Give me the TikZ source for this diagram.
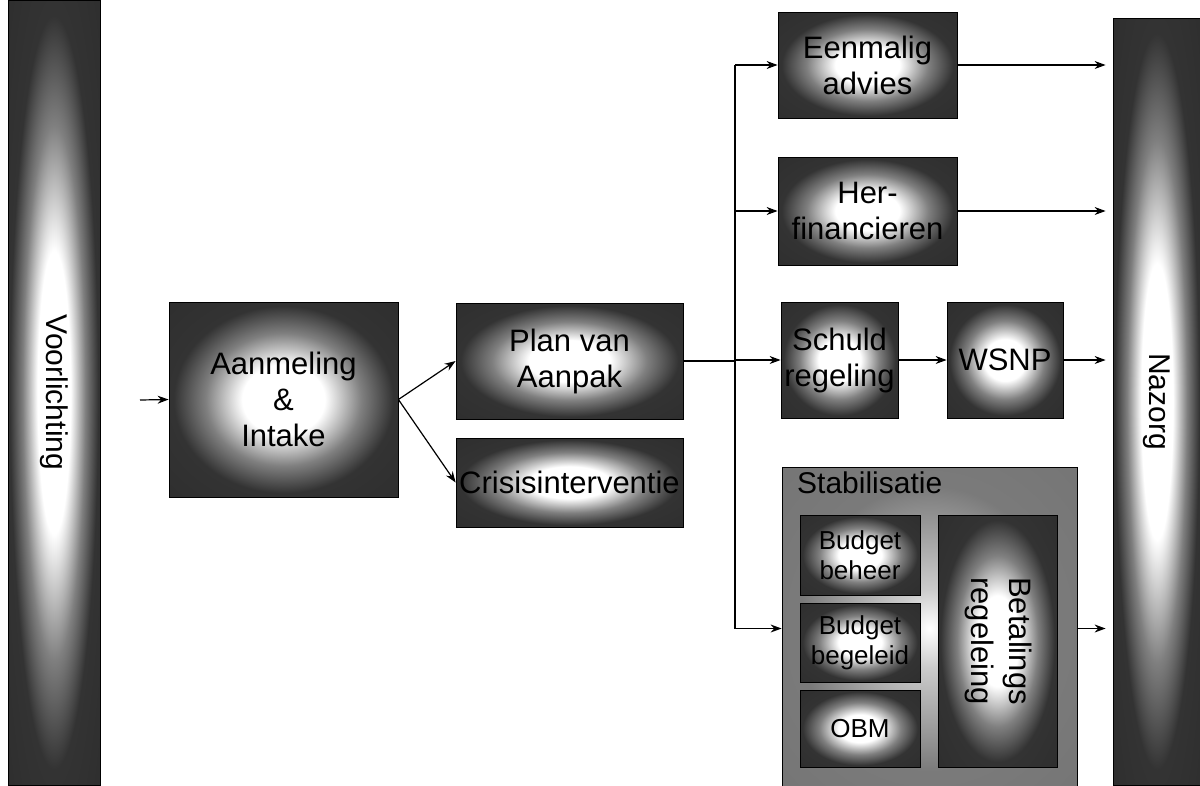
\documentclass[tikz,border=0pt]{standalone}
\usepackage{fontspec}
\setmainfont{Liberation Sans}
\usepackage{graphicx}
\usetikzlibrary{arrows.meta}

% dark edges, white middle
\pgfdeclareradialshading{glow}{\pgfpoint{0bp}{0bp}}{%
  color(0bp)=(white); color(9bp)=(white); color(17bp)=(black!50); color(24bp)=(black!80); color(50bp)=(black!84)}
\pgfdeclareradialshading{paleglow}{\pgfpoint{0bp}{0bp}}{%
  color(0bp)=(white); color(6bp)=(black!20); color(22bp)=(black!52); color(50bp)=(black!56)}

\begin{document}
\begin{tikzpicture}[
    x=1pt, y=-1pt,
    box/.style={draw=black, line width=0.8pt, shading=glow, inner sep=0pt, align=center,
        font=\fontsize{31}{36}\selectfont},
    smallbox/.style={box, font=\fontsize{26}{30}\selectfont},
    frame/.style={draw=black, line width=0.8pt, shading=paleglow, inner sep=0pt},
    flow/.style={-{Stealth[length=11pt,width=8pt]}, line width=1.2pt},
    link/.style={line width=1.2pt}
]
    \useasboundingbox (0,0) rectangle (1200,785);

    % Side bars
    \node[box, minimum width=92pt, minimum height=785pt, font=\fontsize{30}{34}\selectfont]
        (voorl) at (54,392.5) {\rotatebox{-90}{Voorlichting}};
    \node[box, minimum width=88pt, minimum height=767pt, font=\fontsize{30}{34}\selectfont]
        (nazorg) at (1157,401.5) {\rotatebox{-90}{Nazorg}};

    % Intake and plan
    \node[box, minimum width=229pt, minimum height=195pt] (aanmeling) at (283.5,399.5)
        {Aanmeling\\\&\\Intake};
    \node[box, minimum width=227pt, minimum height=116pt] (plan) at (569.5,361)
        {Plan van\\Aanpak};
    \node[box, minimum width=227pt, minimum height=89pt] (crisis) at (569.5,482.5)
        {Crisisinterventie};

    % Routes
    \node[box, minimum width=179pt, minimum height=106pt] (eenmalig) at (867.5,65)
        {Eenmalig\\advies};
    \node[box, minimum width=179pt, minimum height=108pt] (herfin) at (867.5,211)
        {Her-\\financieren};
    \node[box, minimum width=117pt, minimum height=116pt] (schuld) at (839.5,360)
        {Schuld\\regeling};
    \node[box, minimum width=116pt, minimum height=116pt] (wsnp) at (1005,360) {WSNP};

    % Stabilisatie
    \node[frame, minimum width=295pt, minimum height=323pt] (stab) at (929.5,628.5) {};
    \node[anchor=base west, inner sep=0pt, font=\fontsize{30}{34}\selectfont]
        (stablabel) at (797,493) {Stabilisatie};
    \node[smallbox, minimum width=120pt, minimum height=80pt] (beheer) at (860,555)
        {Budget\\beheer};
    \node[smallbox, minimum width=120pt, minimum height=79pt] (begeleid) at (860,642.5)
        {Budget\\begeleid};
    \node[smallbox, minimum width=120pt, minimum height=77pt] (obm) at (860,728.5) {OBM};
    \node[box, minimum width=119pt, minimum height=252pt] (betaling) at (997.5,641)
        {\rotatebox{-90}{\begin{tabular}{@{}c@{}}Betalings\\[2pt]regeleing\end{tabular}}};

    % Connections
    \coordinate (start) at (140,400);
    \coordinate (split) at (735,361);
    \draw[flow] (start) -- (aanmeling.west);
    \draw[flow] (aanmeling.east) -- (plan.west);
    \draw[flow] (aanmeling.east) -- (crisis.west);

    \draw[link] (plan.east) -- (split);
    \draw[link] (split |- eenmalig.west) -- (split |- stab.west);
    \draw[flow] (split |- eenmalig.west) -- (eenmalig.west);
    \draw[flow] (split |- herfin.west) -- (herfin.west);
    \draw[flow] (split |- schuld.west) -- (schuld.west);
    \draw[flow] (split |- stab.west) -- (stab.west);

    \draw[flow] (schuld.east) -- (wsnp.west);

    % Into Nazorg
    \draw[flow, shorten >=7pt] (eenmalig.east) -- (eenmalig.east -| nazorg.west);
    \draw[flow, shorten >=7pt] (herfin.east) -- (herfin.east -| nazorg.west);
    \draw[flow, shorten >=7pt] (wsnp.east) -- (wsnp.east -| nazorg.west);
    \draw[flow, shorten >=7pt] (stab.east) -- (stab.east -| nazorg.west);
\end{tikzpicture}
\end{document}
